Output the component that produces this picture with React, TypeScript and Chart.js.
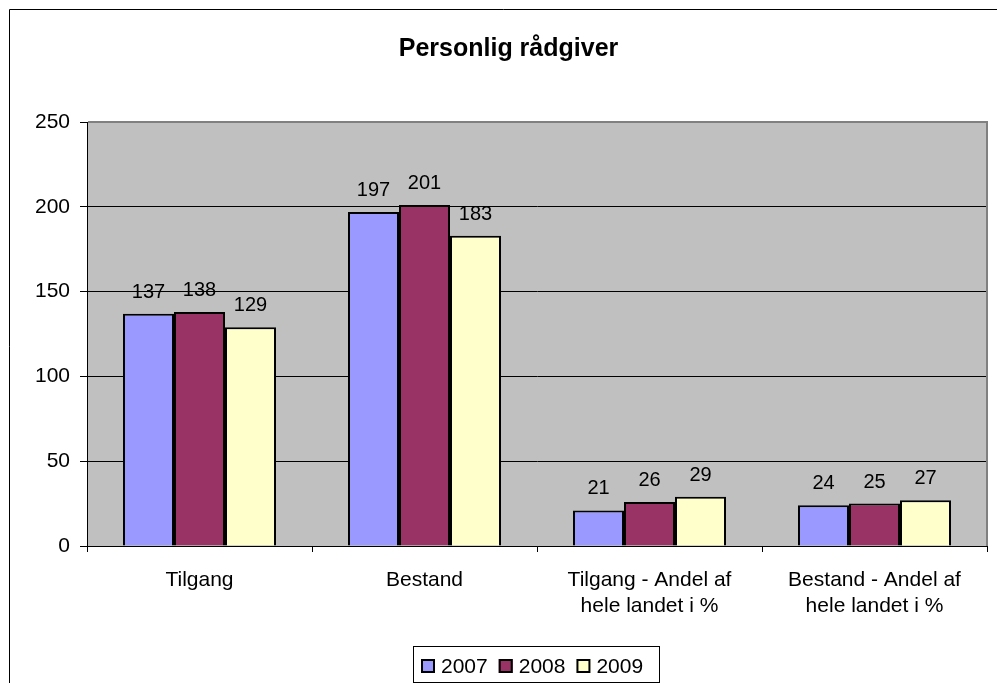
import React, { useEffect, useRef } from "react";
import { Chart, registerables } from "chart.js";

Chart.register(...registerables);

const categories: string[][] = [
  ["Tilgang"],
  ["Bestand"],
  ["Tilgang - Andel af", "hele landet i %"],
  ["Bestand - Andel af", "hele landet i %"],
];
const seriesNames = ["2007", "2008", "2009"];
const values2007 = [137, 197, 21, 24];
const values2008 = [138, 201, 26, 25];
const values2009 = [129, 183, 29, 27];
const seriesColors = ["#9999FF", "#993366", "#FFFFCC"];
const yMin = 0;
const yMax = 250;
const yStep = 50;
const titleText = "Personlig rådgiver";

const FONT = "'Liberation Sans', Arial, sans-serif";

const decorPlugin = {
  id: "decor",
  beforeDraw(chart: any) {
    const { ctx, chartArea, width, height } = chart;
    ctx.save();
    ctx.fillStyle = "#FFFFFF";
    ctx.fillRect(0, 0, width, height);
    ctx.strokeStyle = "#000000";
    ctx.lineWidth = 1;
    ctx.beginPath();
    ctx.moveTo(9.5, height + 2);
    ctx.lineTo(9.5, 9.5);
    ctx.lineTo(width + 2, 9.5);
    ctx.stroke();
    ctx.fillStyle = "#C0C0C0";
    ctx.fillRect(
      chartArea.left,
      chartArea.top,
      chartArea.right - chartArea.left,
      chartArea.bottom - chartArea.top
    );
    ctx.restore();
  },
  afterDraw(chart: any) {
    const { ctx, chartArea } = chart;
    ctx.save();
    ctx.strokeStyle = "#808080";
    ctx.lineWidth = 2;
    ctx.beginPath();
    ctx.moveTo(chartArea.left + 1, chartArea.top);
    ctx.lineTo(chartArea.right, chartArea.top);
    ctx.lineTo(chartArea.right, chartArea.bottom);
    ctx.stroke();

    ctx.fillStyle = "#000000";
    ctx.font = `20px ${FONT}`;
    ctx.textAlign = "center";
    ctx.textBaseline = "alphabetic";
    chart.data.datasets.forEach((ds: any, i: number) => {
      const meta = chart.getDatasetMeta(i);
      meta.data.forEach((el: any, j: number) => {
        ctx.fillText(String(ds.data[j]), el.x, el.y - 16);
      });
    });

    ctx.font = `bold 25px ${FONT}`;
    ctx.fillText(titleText, 508.5, 56);

    ctx.strokeStyle = "#000000";
    ctx.lineWidth = 1;
    ctx.strokeRect(413.5, 646.5, 246, 36);
    ctx.font = `21px ${FONT}`;
    ctx.textAlign = "left";
    ctx.textBaseline = "middle";
    let x = 421;
    chart.data.datasets.forEach((ds: any) => {
      ctx.fillStyle = ds.backgroundColor;
      ctx.fillRect(x, 659, 14, 14);
      ctx.strokeStyle = "#000000";
      ctx.lineWidth = 2;
      ctx.strokeRect(x + 1, 660, 12, 12);
      ctx.fillStyle = "#000000";
      const tx = x + 20;
      ctx.fillText(ds.label, tx, 667);
      x = tx + ctx.measureText(ds.label).width + 11;
    });
    ctx.restore();
  },
};

export default function App() {
  const ref = useRef<HTMLCanvasElement | null>(null);

  useEffect(() => {
    if (!ref.current) return;
    const allValues = [values2007, values2008, values2009];
    const chart = new Chart(ref.current, {
      type: "bar",
      data: {
        labels: categories,
        datasets: seriesNames.map((name, i) => ({
          label: name,
          data: allValues[i],
          backgroundColor: seriesColors[i],
          borderColor: "#000000",
          borderWidth: 2,
          categoryPercentage: 0.68,
          barPercentage: 1.0,
        })),
      },
      options: {
        responsive: false,
        animation: false,
        devicePixelRatio: 1,
        layout: { padding: { left: 10, right: 10, top: 122, bottom: 37 } },
        plugins: {
          legend: { display: false },
          title: { display: false },
          tooltip: { enabled: false },
        },
        scales: {
          x: {
            offset: true,
            grid: {
              offset: true,
              drawOnChartArea: false,
              drawTicks: true,
              tickLength: 6,
              color: "#000000",
              lineWidth: 1,
            },
            border: { display: true, color: "#000000", width: 1 },
            ticks: {
              color: "#000000",
              font: { family: FONT, size: 21, lineHeight: 1.24 },
              padding: 15,
              maxRotation: 0,
              minRotation: 0,
              autoSkip: false,
            },
            afterFit(scale: any) {
              scale.height = 100;
            },
          },
          y: {
            min: yMin,
            max: yMax,
            grid: {
              color: "#000000",
              lineWidth: 1,
              drawTicks: true,
              tickLength: 7,
            },
            border: { display: true, color: "#000000", width: 1 },
            ticks: {
              stepSize: yStep,
              color: "#000000",
              font: { family: FONT, size: 21 },
              padding: 10,
            },
            afterFit(scale: any) {
              scale.width = 77;
            },
          },
        },
      },
      plugins: [decorPlugin],
    });
    return () => chart.destroy();
  }, []);

  return (
    <div style={{ position: "fixed", left: 0, top: 0, width: 997, height: 683 }}>
      <canvas ref={ref} width={997} height={683} style={{ display: "block", width: 997, height: 683 }} />
    </div>
  );
}
